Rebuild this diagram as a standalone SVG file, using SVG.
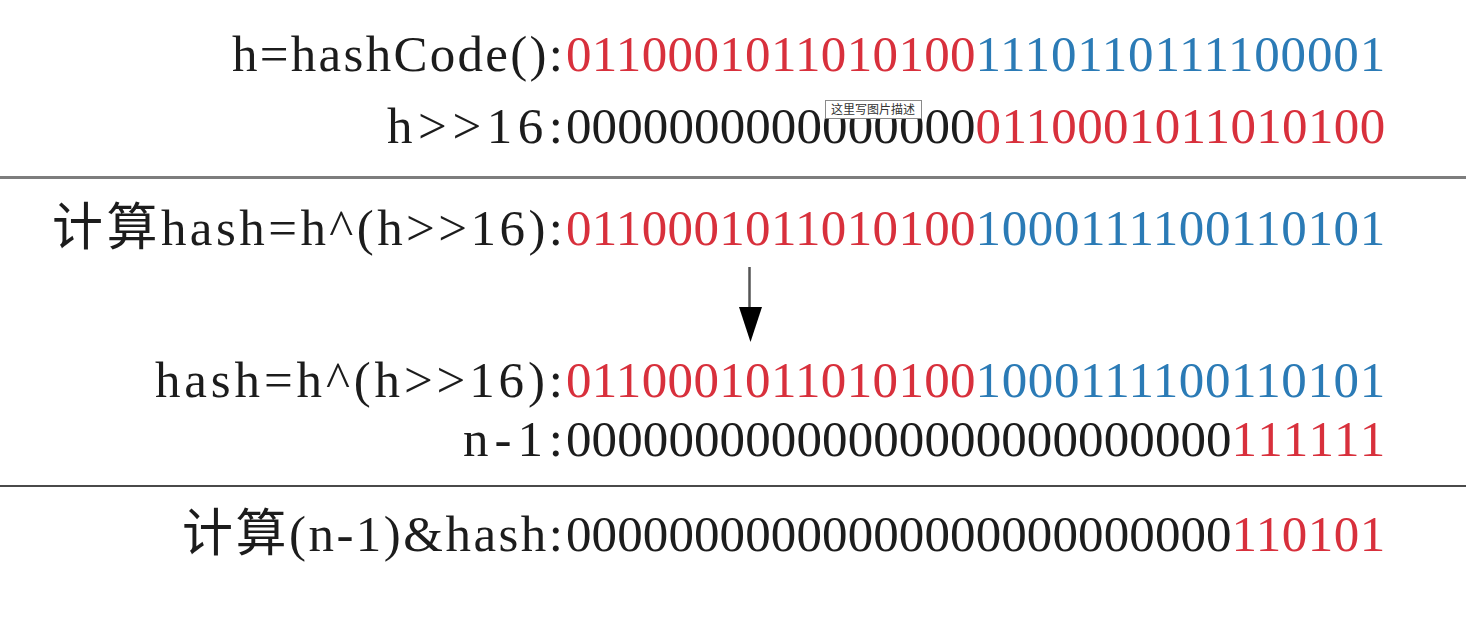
<svg xmlns="http://www.w3.org/2000/svg" width="1466" height="642" viewBox="0 0 1466 642">
<style>
  text { font-family: "Liberation Serif", "Noto Sans CJK SC", serif; font-size: 51px; }
  .k { fill: #1c1c1c; }
  .r { fill: #d8303c; }
  .b { fill: #2b7bb6; }
  .sep1 { stroke: #7d7d7d; stroke-width: 3; }
  .sep2 { stroke: #4a4a4a; stroke-width: 2; }
  .tip { font-family: "Noto Sans CJK SC", "Liberation Sans", sans-serif; font-size: 12px; fill: #333; }
</style>
<rect x="0" y="0" width="1466" height="642" fill="#ffffff"/>

<g id="line-hashcode">
  <text class="k" x="232" y="71" textLength="331" lengthAdjust="spacing">h=hashCode():</text>
  <text class="r" x="566" y="71" textLength="409.6" lengthAdjust="spacing">0110001011010100</text>
  <text class="b" x="975.6" y="71" textLength="409.6" lengthAdjust="spacing">1110110111100001</text>
</g>

<g id="line-shift">
  <text class="k" x="387" y="143" textLength="176" lengthAdjust="spacing">h&gt;&gt;16:</text>
  <text class="k" x="566" y="143" textLength="409.6" lengthAdjust="spacing">0000000000000000</text>
  <text class="r" x="975.6" y="143" textLength="409.6" lengthAdjust="spacing">0110001011010100</text>
</g>

<g id="tooltip">
  <rect x="825.5" y="100.5" width="96" height="18" fill="#ffffff" stroke="#8a8a8a" stroke-width="1"/>
  <text class="tip" x="831" y="114">这里写图片描述</text>
</g>

<g id="separator-1">
  <line class="sep1" x1="0" y1="177.5" x2="1466" y2="177.5"/>
</g>

<g id="line-compute-hash">
  <text class="k" x="52" y="245" textLength="511" lengthAdjust="spacing">计算hash=h^(h&gt;&gt;16):</text>
  <text class="r" x="566" y="245" textLength="409.6" lengthAdjust="spacing">0110001011010100</text>
  <text class="b" x="975.6" y="245" textLength="409.6" lengthAdjust="spacing">1000111100110101</text>
</g>

<g id="connectors">
  <line x1="749.5" y1="267" x2="749.5" y2="309" stroke="#555555" stroke-width="2.5"/>
  <polygon points="739,307 762,307 750.5,342" fill="#000000"/>
</g>

<g id="line-hash">
  <text class="k" x="155" y="397" textLength="408" lengthAdjust="spacing">hash=h^(h&gt;&gt;16):</text>
  <text class="r" x="566" y="397" textLength="409.6" lengthAdjust="spacing">0110001011010100</text>
  <text class="b" x="975.6" y="397" textLength="409.6" lengthAdjust="spacing">1000111100110101</text>
</g>

<g id="line-n-1">
  <text class="k" x="463" y="456" textLength="100" lengthAdjust="spacing">n-1:</text>
  <text class="k" x="566" y="456" textLength="665.6" lengthAdjust="spacing">00000000000000000000000000</text>
  <text class="r" x="1231.6" y="456" textLength="153.6" lengthAdjust="spacing">111111</text>
</g>

<g id="separator-2">
  <line class="sep2" x1="0" y1="486" x2="1466" y2="486"/>
</g>

<g id="line-and">
  <text class="k" x="182" y="551" textLength="381" lengthAdjust="spacing">计算(n-1)&amp;hash:</text>
  <text class="k" x="566" y="551" textLength="665.6" lengthAdjust="spacing">00000000000000000000000000</text>
  <text class="r" x="1231.6" y="551" textLength="153.6" lengthAdjust="spacing">110101</text>
</g>
</svg>
